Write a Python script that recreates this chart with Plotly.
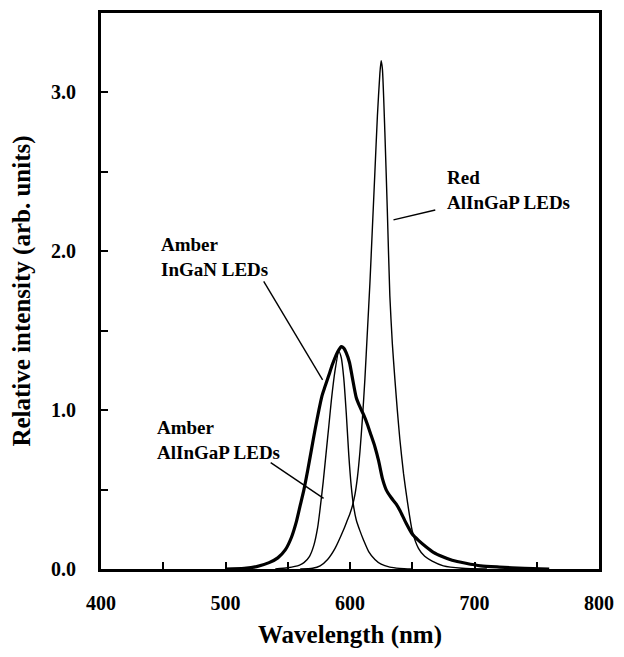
import plotly.graph_objects as go

# spectra (wavelength in nm, relative intensity)
red_wl = [560, 570, 576, 582, 588, 595, 598, 600, 602, 604, 606, 608, 610, 612, 614, 616, 618, 620,
          622, 624, 625, 626, 628, 630, 632, 634, 636, 638, 640, 643, 646, 650, 655, 660, 666, 675, 690, 710]
red_int = [0.0, 0.005, 0.02, 0.06, 0.13, 0.25, 0.31, 0.35, 0.40, 0.47, 0.58, 0.74, 0.95, 1.2, 1.5, 1.8, 2.15, 2.5,
           2.85, 3.12, 3.2, 3.15, 2.75, 2.25, 1.72, 1.42, 1.2, 1.0, 0.82, 0.6, 0.43, 0.24, 0.13, 0.08, 0.05, 0.02, 0.005, 0.0]

amber_alingap_wl = [540, 550, 559.5, 563, 567.5, 571, 574, 576, 578.5, 581, 583, 585, 588, 591, 593,
                    595, 597, 599, 601, 603, 605, 608, 611, 615, 620, 625, 632, 640, 650]
amber_alingap_int = [0.0, 0.008, 0.025, 0.04, 0.08, 0.15, 0.26, 0.38, 0.55, 0.745, 0.9, 1.06, 1.25, 1.37, 1.33,
                     1.2, 0.98, 0.72, 0.52, 0.39, 0.31, 0.24, 0.18, 0.11, 0.06, 0.03, 0.012, 0.004, 0.0]

amber_ingan_wl = [500, 515, 525, 535, 542, 548, 553, 557, 560, 563, 566, 569, 572, 575, 577.5, 580,
                  583, 586, 589, 591, 593, 595, 597, 599.6, 602, 605, 608, 611, 614, 617, 620, 623,
                  626, 629, 633, 637, 640, 645, 650, 655, 661, 667, 674.5, 682, 693, 705, 720, 740, 760]
amber_ingan_int = [0.0, 0.004, 0.015, 0.04, 0.07, 0.12, 0.2, 0.3, 0.4, 0.5, 0.62, 0.75, 0.88, 1.0, 1.09, 1.15,
                   1.22, 1.29, 1.35, 1.38, 1.40, 1.39, 1.36, 1.30, 1.2, 1.08, 1.02, 0.97, 0.91, 0.84, 0.77, 0.68,
                   0.57, 0.5, 0.45, 0.41, 0.37, 0.29, 0.22, 0.18, 0.14, 0.105, 0.077, 0.055, 0.036, 0.02, 0.012, 0.004, 0.0]

x_ticks = [400, 450, 500, 550, 600, 650, 700, 750, 800]
x_labels = ['400', '', '500', '', '600', '', '700', '', '800']
y_ticks = [0, 0.5, 1.0, 1.5, 2.0, 2.5, 3.0, 3.5]
y_labels = ['0.0', '', '1.0', '', '2.0', '', '3.0', '']

font = 'Liberation Serif'

fig = go.Figure()
fig.add_trace(go.Scatter(x=amber_ingan_wl, y=amber_ingan_int, mode='lines',
                         line=dict(color='black', width=3.2, shape='spline', smoothing=0.6)))
fig.add_trace(go.Scatter(x=amber_alingap_wl, y=amber_alingap_int, mode='lines',
                         line=dict(color='black', width=1.4, shape='spline', smoothing=0.6)))
fig.add_trace(go.Scatter(x=red_wl, y=red_int, mode='lines',
                         line=dict(color='black', width=1.4, shape='spline', smoothing=0.6)))

# label leader lines
leaders = [(668.5, 2.26, 634.9, 2.198), (530.7, 1.81, 578.0, 1.19), (536.3, 0.67, 578.8, 0.445)]
for x0, y0, x1, y1 in leaders:
    fig.add_shape(type='line', x0=x0, y0=y0, x1=x1, y1=y1, xref='x', yref='y',
                  line=dict(color='black', width=1.4))

labels = [(676.6, 2.383, 'Red<br>AlInGaP LEDs'),
          (446.5, 1.966, 'Amber<br>InGaN LEDs'),
          (443.3, 0.814, 'Amber<br>AlInGaP LEDs')]
for x, y, t in labels:
    fig.add_annotation(x=x, y=y, xref='x', yref='y', text=t, showarrow=False,
                       xanchor='left', yanchor='middle', align='left',
                       font=dict(family=font, size=19, color='black', weight='bold'))

fig.update_xaxes(range=[400, 800], tickvals=x_ticks, ticktext=x_labels,
                 ticks='inside', ticklen=7, tickwidth=2, tickcolor='black',
                 showline=True, linewidth=3, linecolor='black', mirror=True,
                 showgrid=False, zeroline=False, ticklabelstandoff=14,
                 tickfont=dict(family=font, size=20, color='black', weight='bold'),
                 title=dict(text='Wavelength (nm)', standoff=14,
                            font=dict(family=font, size=25, color='black', weight='bold')))
fig.update_yaxes(range=[0, 3.5], tickvals=y_ticks, ticktext=y_labels,
                 ticks='inside', ticklen=7, tickwidth=2, tickcolor='black',
                 showline=True, linewidth=3, linecolor='black', mirror=True,
                 showgrid=False, zeroline=False, ticklabelstandoff=18,
                 tickfont=dict(family=font, size=20, color='black', weight='bold'),
                 title=dict(text='Relative intensity (arb. units)', standoff=14,
                            font=dict(family=font, size=25, color='black', weight='bold')))
# page body has an 8px margin, so the figure is shrunk to fit the window
fig.update_layout(width=608, height=641, showlegend=False,
                  plot_bgcolor='white', paper_bgcolor='white',
                  margin=dict(l=93, r=16, t=2, b=80))
fig.write_html('out.html')
